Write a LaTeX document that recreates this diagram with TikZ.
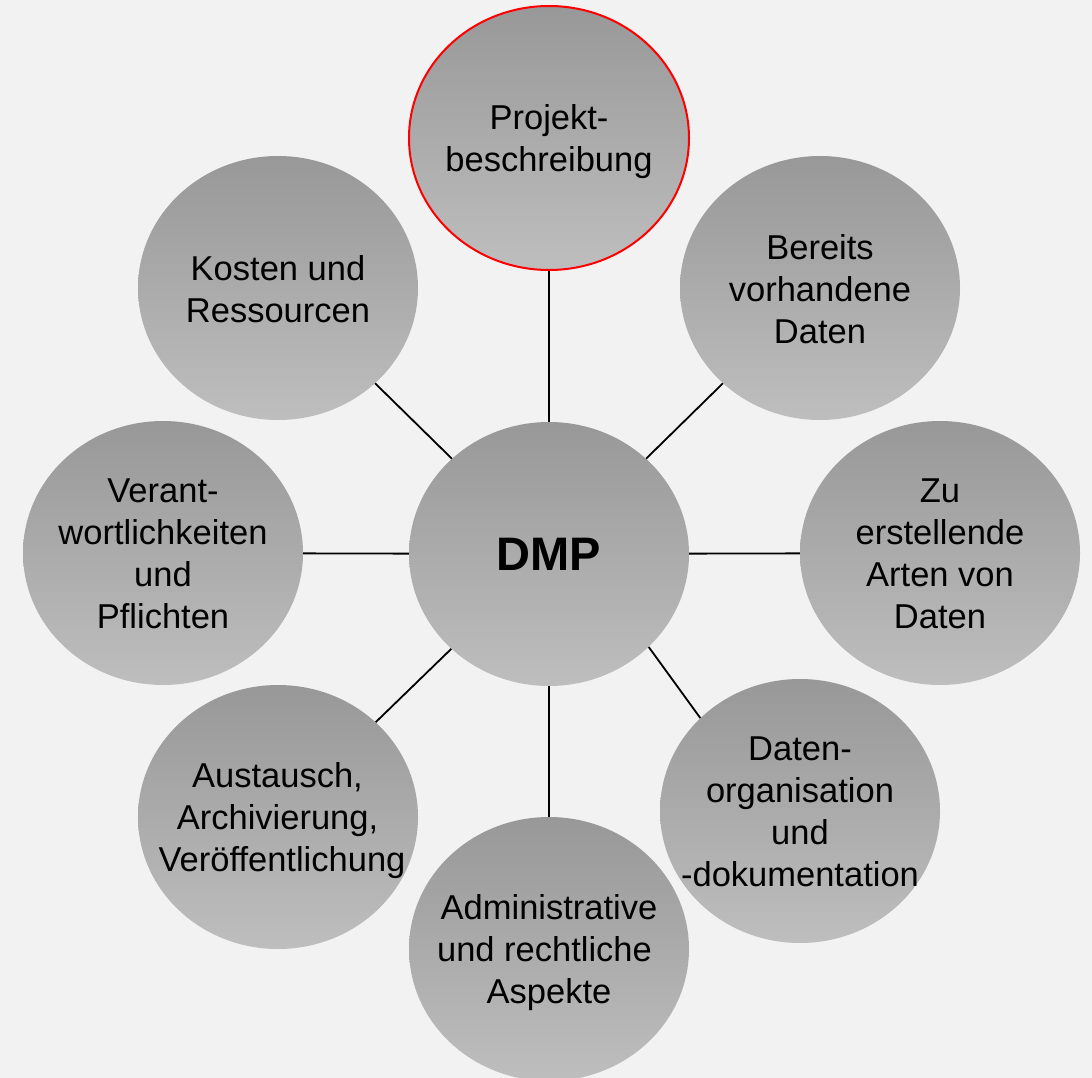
\documentclass[tikz,border=0pt]{standalone}
\usepackage{fontspec}
\setmainfont{Liberation Sans}
\usetikzlibrary{shapes.geometric}
\definecolor{bg}{HTML}{F2F2F2}
\definecolor{gtop}{HTML}{989898}
\definecolor{gbot}{HTML}{BEBEBE}
\definecolor{hl}{HTML}{FF0000}
\newcommand{\lnstrut}{\rule[-7pt]{0pt}{32pt}}
\newcommand{\tsp}{\rule{9pt}{0pt}}
\begin{document}
\begin{tikzpicture}[x=1pt,y=-1pt,
  ell/.style={ellipse, minimum width=280pt, minimum height=264pt, inner sep=0pt,
    top color=gtop, bottom color=gbot},
  lbl/.style={inner sep=0pt, align=center, font=\fontsize{34.5}{42}\selectfont,
    yshift=-4pt,
    execute at begin node=\lnstrut, execute at end node=\lnstrut},
  hub/.style={ell, font=\fontsize{47}{50}\selectfont\bfseries},
  link/.style={draw=black, line width=1.8pt}]
\fill[bg] (0,0) rectangle (1092,1078);
\useasboundingbox (0,0) rectangle (1092,1078);

\node[hub] (dmp) at (549,554) {DMP};
\node[ell, draw=hl, line width=2pt] (proj) at (549,138) {};
\node[ell] (bereits) at (820,288) {};
\node[ell] (zu) at (940,553) {};
\node[ell] (org) at (800,811) {};
\node[ell] (admin) at (549,949) {};
\node[ell] (aust) at (278,817) {};
\node[ell] (verant) at (163,553) {};
\node[ell] (kosten) at (278,288) {};

\node[lbl] (projT) at (proj) {Projekt-\\beschreibung};
\node[lbl] (bereitsT) at (bereits) {Bereits\\vorhandene\\Daten};
\node[lbl] (zuT) at (zu) {Zu\\erstellende\\Arten von\\Daten};
\node[lbl] (orgT) at (org) {Daten-\\organisation\\und\\-dokumentation};
\node[lbl] (adminT) at (admin) {Administrative\\und rechtliche\tsp\\Aspekte};
\node[lbl] (austT) at ([xshift=4pt]aust.center) {Austausch,\tsp\\Archivierung,\tsp\\Veröffentlichung};
\node[lbl] (verantT) at (verant) {Verant-\\wortlichkeiten\\und\\Pflichten};
\node[lbl] (kostenT) at (kosten) {Kosten und\\Ressourcen};

\draw[link] (dmp) -- (proj);
\draw[link] (dmp) -- (bereits);
\draw[link] (dmp) -- (zu);
\draw[link] (dmp.-43) -- (org.137);
\draw[link] (dmp) -- (admin);
\draw[link] (dmp) -- (aust);
\draw[link] (dmp) -- (verant);
\draw[link] (dmp) -- (kosten);
\end{tikzpicture}
\end{document}
